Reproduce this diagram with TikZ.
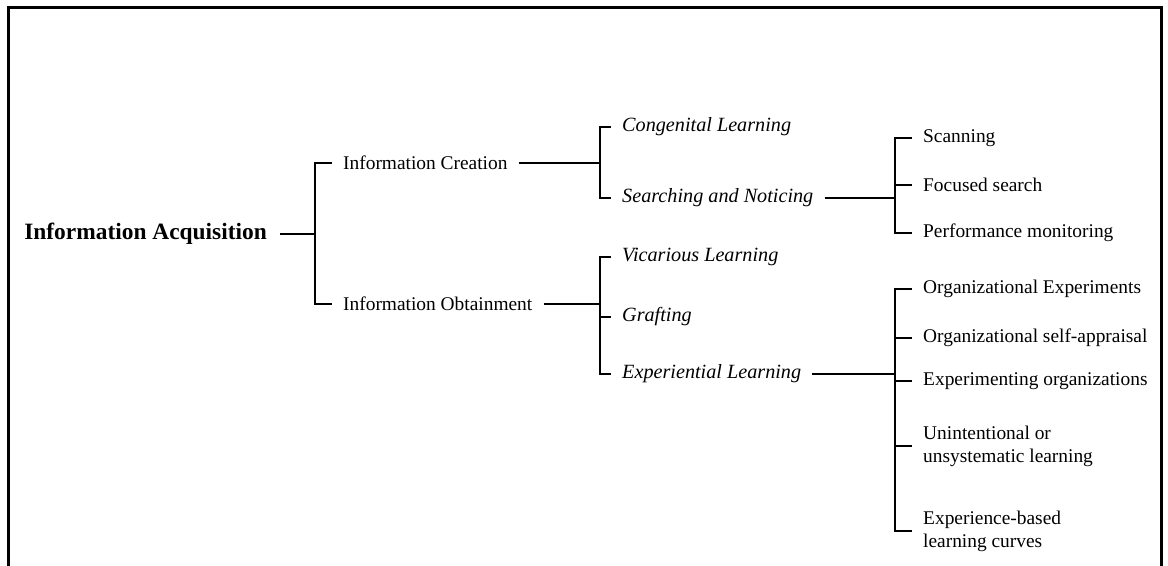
\documentclass[tikz,border=0pt]{standalone}
\usepackage{fontspec}
\setmainfont{Liberation Serif}

\begin{document}
\begin{tikzpicture}[x=0.5pt,y=-0.5pt,line width=1.2pt,
    item/.style={anchor=west,inner xsep=5pt,inner ysep=0pt,align=left,
      font=\fontsize{9.7}{11.5}\selectfont},
    emitem/.style={item,font=\fontsize{10.1}{12}\selectfont\itshape},
    root/.style={anchor=east,inner xsep=6pt,inner ysep=0pt,
      font=\fontsize{11.7}{13.5}\selectfont\bfseries}]
  \useasboundingbox (0,0) rectangle (1168,566);
  % frame, open at the bottom
  \draw[line width=1.5pt] (8,566) -- (8,8) -- (1161,8) -- (1161,566);

  % bracket columns
  \coordinate (b1) at (315,0);
  \coordinate (b2) at (600,0);
  \coordinate (b3) at (895,0);

  \node[root] (acq) at (280,234) {Information Acquisition};

  \node[item] (cre) at (332,163) {Information Creation};
  \node[item] (obt) at (332,304) {Information Obtainment};

  \node[emitem] (cong) at (611,127) {Congenital Learning};
  \node[emitem] (search) at (611,198) {Searching and Noticing};
  \node[emitem] (vic) at (611,257) {Vicarious Learning};
  \node[emitem] (graft) at (611,317) {Grafting};
  \node[emitem] (exper) at (611,374) {Experiential Learning};

  \node[item] (scan) at (912,138) {Scanning};
  \node[item] (focus) at (912,185) {Focused search};
  \node[item] (perf) at (912,233) {Performance monitoring};

  \node[item] (orgexp) at (912,289) {Organizational Experiments};
  \node[item] (selfapp) at (912,338) {Organizational self-appraisal};
  \node[item] (exporg) at (912,381) {Experimenting organizations};
  \node[item] (unint) at (912,446) {Unintentional or\\unsystematic learning};
  \node[item] (expcurve) at (912,531) {Experience-based\\learning curves};

  % first level
  \draw (acq.east) -- (acq.east -| b1);
  \draw (cre.west) -- (cre.west -| b1) -- (obt.west -| b1) -- (obt.west);

  % second level
  \draw (cre.east) -- (cre.east -| b2);
  \draw (cong.west) -- (cong.west -| b2) -- (search.west -| b2) -- (search.west);
  \draw (obt.east) -- (obt.east -| b2);
  \draw (vic.west) -- (vic.west -| b2) -- (exper.west -| b2) -- (exper.west);
  \draw (graft.west -| b2) -- (graft.west);

  % third level
  \draw (search.east) -- (search.east -| b3);
  \draw (scan.west) -- (scan.west -| b3) -- (perf.west -| b3) -- (perf.west);
  \draw (focus.west -| b3) -- (focus.west);
  \draw (exper.east) -- (exper.east -| b3);
  \draw (orgexp.west) -- (orgexp.west -| b3) -- (expcurve.west -| b3) -- (expcurve.west);
  \draw (selfapp.west -| b3) -- (selfapp.west);
  \draw (exporg.west -| b3) -- (exporg.west);
  \draw (unint.west -| b3) -- (unint.west);
\end{tikzpicture}
\end{document}
